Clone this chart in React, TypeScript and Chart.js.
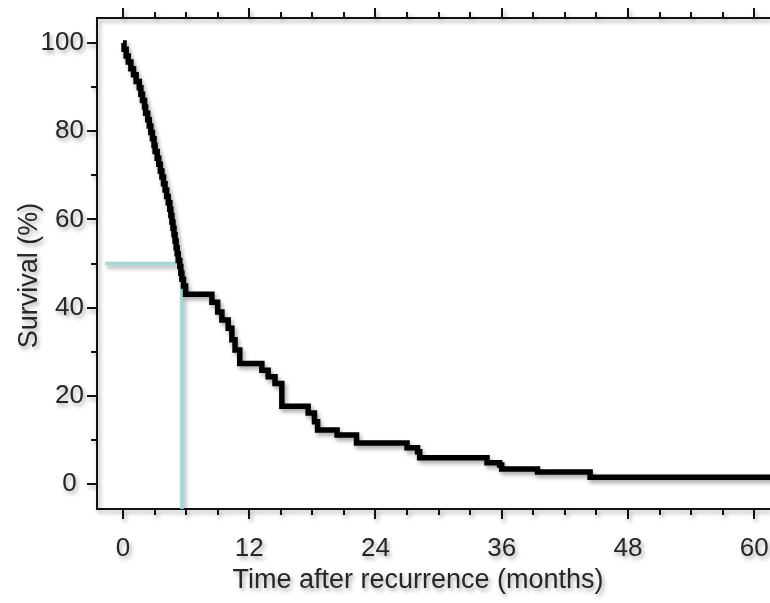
import React, { useEffect, useRef } from 'react';
import { Chart, registerables } from 'chart.js';

Chart.register(...registerables);

// Kaplan-Meier curve: time (months) at which survival drops to the given value (%)
const TIMES = [
  0, 0.1, 0.3, 0.5, 0.75, 1.0, 1.25, 1.55, 1.7, 1.85, 2.05, 2.15, 2.35, 2.5, 2.65, 2.8, 2.95,
  3.05, 3.25, 3.4, 3.55, 3.7, 3.85, 4.0, 4.15, 4.3, 4.45, 4.55, 4.65, 4.75, 4.85, 4.95, 5.05,
  5.15, 5.25, 5.4, 5.5, 5.6, 5.75, 5.95,
  8.45, 9.0, 9.4, 10.0, 10.35, 10.65, 11.1, 13.2, 13.8, 14.45, 15.1, 17.6, 18.2, 18.5, 20.35,
  22.2, 27.0, 28.0, 28.2, 34.6, 35.8, 36.0, 39.4, 44.4, 62,
];
const SURVIVAL = [
  100, 98.6, 97.1, 95.7, 94.2, 92.8, 91.3, 89.9, 88.4, 87.0, 85.5, 84.1, 82.6, 81.2, 79.7, 78.3,
  76.8, 75.4, 73.9, 72.5, 71.0, 69.6, 68.1, 66.7, 65.2, 63.8, 62.3, 60.9, 59.4, 58.0, 56.5, 55.1,
  53.6, 52.2, 50.7, 49.3, 47.8, 46.4, 44.9, 43.0,
  41.2, 39.0, 37.2, 35.3, 32.7, 30.4, 27.3, 25.8, 24.3, 22.8, 17.6, 16.1, 14.1, 12.2, 11.1,
  9.3, 8.2, 7.3, 5.9, 4.8, 4.3, 3.4, 2.7, 1.5, 1.5,
];

// Median survival guide lines
const MEDIAN_H_X = [-1.7, 5.0];
const MEDIAN_H_Y = [50, 50];
const MEDIAN_V_X = [5.6, 5.6];
const MEDIAN_V_Y = [45, -5.7];

const X_RANGE = [-2.47, 61.5];
const Y_RANGE = [-5.7, 105.7];
const X_TICKS = [0, 12, 24, 36, 48, 60];
const X_TICK_LABELS = ['0', '12', '24', '36', '48', '60'];
const X_MINOR = [3, 6, 9, 15, 18, 21, 27, 30, 33, 39, 42, 45, 51, 54, 57];
const Y_TICKS = [0, 20, 40, 60, 80, 100];
const Y_TICK_LABELS = ['0 ', '20', '40', '60', '80', '100'];
const Y_MINOR = [10, 30, 50, 70, 90];

const X_TITLE = 'Time after recurrence (months)';
const Y_TITLE = 'Survival (%)';

const FONT = '"Liberation Sans", Arial, sans-serif';
const TEXT_COLOR = '#262626';
const AXIS_COLOR = '#111111';
const CURVE_COLOR = '#000000';
const MEDIAN_COLOR = '#a6d6db';

const setShadow = (ctx: CanvasRenderingContext2D) => {
  ctx.shadowColor = 'rgba(0,0,0,0.35)';
  ctx.shadowOffsetX = 2;
  ctx.shadowOffsetY = 3;
  ctx.shadowBlur = 4;
};
const clearShadow = (ctx: CanvasRenderingContext2D) => {
  ctx.shadowColor = 'rgba(0,0,0,0)';
  ctx.shadowOffsetX = 0;
  ctx.shadowOffsetY = 0;
  ctx.shadowBlur = 0;
};

const axesPlugin = {
  id: 'kmAxes',
  beforeDraw(chart: any) {
    setShadow(chart.ctx);
  },
  beforeDatasetsDraw(chart: any) {
    const ctx = chart.ctx as CanvasRenderingContext2D;
    const { left, right, top, bottom } = chart.chartArea;
    const xs = chart.scales.x;
    const ys = chart.scales.y;
    ctx.save();
    ctx.strokeStyle = AXIS_COLOR;
    ctx.lineWidth = 2;
    ctx.lineCap = 'butt';
    ctx.beginPath();
    ctx.moveTo(left, top);
    ctx.lineTo(left, bottom);
    ctx.moveTo(left - 1, bottom);
    ctx.lineTo(right, bottom);
    ctx.moveTo(left - 1, top);
    ctx.lineTo(right, top);
    const xTick = (v: number, len: number) => {
      const px = Math.round(xs.getPixelForValue(v));
      ctx.moveTo(px, bottom);
      ctx.lineTo(px, bottom + len);
      ctx.moveTo(px, top);
      ctx.lineTo(px, top - len);
    };
    X_TICKS.forEach((v) => xTick(v, 10));
    X_MINOR.forEach((v) => xTick(v, 6));
    const yTick = (v: number, len: number) => {
      const py = Math.round(ys.getPixelForValue(v));
      ctx.moveTo(left, py);
      ctx.lineTo(left - len, py);
    };
    Y_TICKS.forEach((v) => yTick(v, 10));
    Y_MINOR.forEach((v) => yTick(v, 6));
    ctx.stroke();
    ctx.restore();
  },
  afterDraw(chart: any) {
    const ctx = chart.ctx as CanvasRenderingContext2D;
    const { left, bottom, top } = chart.chartArea;
    ctx.save();
    ctx.fillStyle = TEXT_COLOR;
    ctx.font = `27px ${FONT}`;
    ctx.textAlign = 'center';
    ctx.textBaseline = 'middle';
    ctx.fillText(X_TITLE, left + 321, bottom + 72);
    ctx.translate(30, (top + bottom) / 2 + 12);
    ctx.rotate(-Math.PI / 2);
    ctx.fillText(Y_TITLE, 0, 0);
    ctx.restore();
    clearShadow(ctx);
  },
};

export default function App() {
  const ref = useRef<HTMLCanvasElement | null>(null);

  useEffect(() => {
    if (!ref.current) return;
    const curve = TIMES.map((t, i) => ({ x: t, y: SURVIVAL[i] }));
    const medH = MEDIAN_H_X.map((x, i) => ({ x, y: MEDIAN_H_Y[i] }));
    const medV = MEDIAN_V_X.map((x, i) => ({ x, y: MEDIAN_V_Y[i] }));
    const chart = new Chart(ref.current, {
      type: 'line',
      data: {
        datasets: [
          { data: medH, borderColor: MEDIAN_COLOR, borderWidth: 3.5, pointRadius: 0, order: 2 },
          { data: medV, borderColor: MEDIAN_COLOR, borderWidth: 3.5, pointRadius: 0, order: 2 },
          {
            data: curve,
            borderColor: CURVE_COLOR,
            borderWidth: 5.5,
            pointRadius: 0,
            stepped: 'before',
            borderJoinStyle: 'miter',
            borderCapStyle: 'butt',
            order: 1,
          },
        ],
      },
      options: {
        animation: false,
        responsive: false,
        devicePixelRatio: 1,
        parsing: false,
        normalized: true,
        layout: { padding: { top: 18, right: 0, left: 0, bottom: 0 } },
        plugins: { legend: { display: false }, tooltip: { enabled: false }, title: { display: false } },
        scales: {
          x: {
            type: 'linear',
            position: 'bottom',
            min: X_RANGE[0],
            max: X_RANGE[1],
            afterBuildTicks: (s: any) => {
              s.ticks = X_TICKS.map((v) => ({ value: v }));
            },
            afterFit: (s: any) => {
              s.height = 94;
              s.paddingLeft = 0;
              s.paddingRight = 0;
            },
            ticks: {
              autoSkip: false,
              maxRotation: 0,
              minRotation: 0,
              padding: 14,
              color: TEXT_COLOR,
              font: { family: FONT, size: 26 },
              callback: (_v: any, i: number) => X_TICK_LABELS[i],
            },
            grid: { display: false, drawTicks: true, tickLength: 10 },
            border: { display: false },
          },
          y: {
            type: 'linear',
            position: 'left',
            min: Y_RANGE[0],
            max: Y_RANGE[1],
            afterBuildTicks: (s: any) => {
              s.ticks = Y_TICKS.map((v) => ({ value: v }));
            },
            afterFit: (s: any) => {
              s.width = 97;
              s.paddingTop = 0;
              s.paddingBottom = 0;
            },
            ticks: {
              autoSkip: false,
              padding: 3,
              color: TEXT_COLOR,
              font: { family: FONT, size: 26 },
              callback: (_v: any, i: number) => Y_TICK_LABELS[i],
            },
            grid: { display: false, drawTicks: true, tickLength: 10 },
            border: { display: false },
          },
        },
      },
      plugins: [axesPlugin],
    } as any);
    return () => chart.destroy();
  }, []);

  return (
    <div style={{ position: 'fixed', left: 0, top: 0, width: 770, height: 603, background: '#fff' }}>
      <canvas ref={ref} width={770} height={603} style={{ display: 'block' }} />
    </div>
  );
}
